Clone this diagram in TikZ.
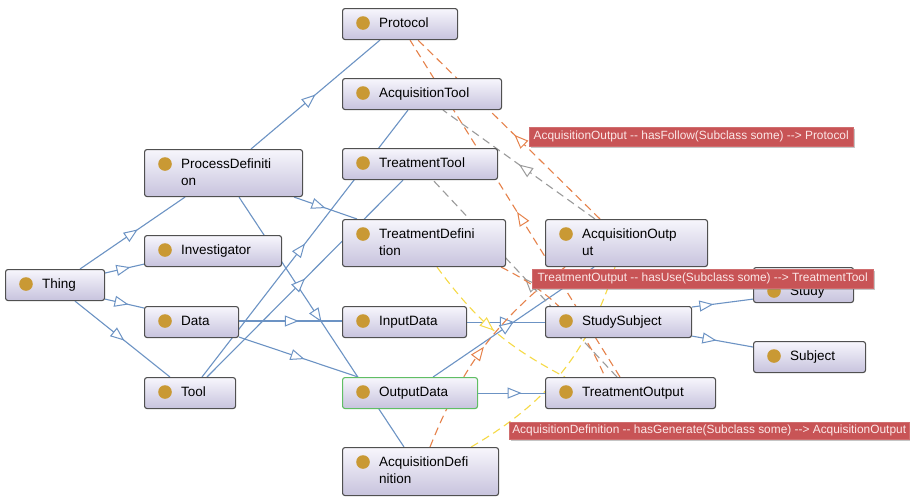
\documentclass[tikz,border=0pt]{standalone}
\usepackage{fontspec}
\setmainfont{Liberation Sans}
\usetikzlibrary{arrows.meta,decorations.markings,shadows,backgrounds}

\definecolor{nodetop}{RGB}{247,246,252}
\definecolor{nodebot}{RGB}{199,195,221}
\definecolor{nodeline}{RGB}{80,80,80}
\definecolor{selline}{RGB}{96,190,100}
\definecolor{dotc}{RGB}{201,153,52}
\definecolor{isa}{RGB}{108,147,196}
\definecolor{follow}{RGB}{230,130,75}
\definecolor{uses}{RGB}{155,155,155}
\definecolor{generate}{RGB}{246,218,70}
\definecolor{tipbg}{RGB}{200,84,86}
\definecolor{tiptext}{RGB}{252,232,232}

\tikzset{
  clsbox/.style={draw=nodeline, line width=1.1pt, rounded corners=2.5pt,
    top color=nodetop, bottom color=nodebot, inner sep=0pt, anchor=north west},
  clsname/.style={anchor=north west, inner sep=0pt, align=left,
    font=\fontsize{13.5}{17}\selectfont},
  midtip/.style={postaction={decorate}, decoration={markings,
    mark=at position #1 with {\arrow{Triangle[length=14pt,width=11pt,fill=white,line width=1pt]}}}},
  isaedge/.style={draw=isa, line width=1.1pt},
  relation/.style={line width=1.1pt, dash pattern=on 8pt off 5pt},
  tooltip/.style={fill=tipbg, draw=tipbg!85!white, text=tiptext, inner sep=0pt,
    anchor=north west, font=\fontsize{11.9}{14}\selectfont,
    drop shadow={shadow xshift=1.5pt, shadow yshift=-1.5pt, opacity=0.45}},
}

% class box: [border], name, x, y, width, height, text
\newcommand{\ontoclass}[7][nodeline]{%
  \node[clsbox, draw=#1, minimum width=#5pt, minimum height=#6pt] (#2) at (#3,#4) {};
  \fill[dotc] ([xshift=21pt,yshift=-15pt]#2.north west) circle (6.8pt);
  \node[clsname] (#2-name) at ([xshift=37pt,yshift=-10pt]#2.north west) {#7};
}

\begin{document}
\begin{tikzpicture}[x=1pt,y=-1pt]
  \useasboundingbox (0,0) rectangle (910,496);

  % classes
  \ontoclass{protocol}{342}{8}{115}{31}{Protocol}
  \ontoclass{acqtool}{342}{78}{159}{31}{AcquisitionTool}
  \ontoclass{procdef}{144}{149}{158}{47}{ProcessDefiniti\\on}
  \ontoclass{treattool}{342}{148}{155}{31}{TreatmentTool}
  \ontoclass{investigator}{144}{235}{137}{31}{Investigator}
  \ontoclass{treatdef}{342}{219}{163}{47}{TreatmentDefini\\tion}
  \ontoclass{acqout}{545}{219}{162}{47}{AcquisitionOutp\\ut}
  \ontoclass{thing}{5}{269}{99}{31}{Thing}
  \node[clsbox, minimum width=100pt, minimum height=35pt] (study) at (753,267) {};
  \fill[dotc] ([xshift=21pt,yshift=-24pt]study.north west) circle (6.8pt);
  \node[clsname] (study-name) at ([xshift=37pt,yshift=-19pt]study.north west) {Study};
  \ontoclass{data}{144}{306}{94}{31}{Data}
  \ontoclass{inputdata}{342}{306}{124}{31}{InputData}
  \ontoclass{studysubject}{545}{306}{146}{31}{StudySubject}
  \ontoclass{subject}{753}{341}{112}{31}{Subject}
  \ontoclass{tool}{144}{377}{91}{31}{Tool}
  \ontoclass[selline]{outputdata}{342}{377}{135}{31}{OutputData}
  \ontoclass{treatout}{545}{377}{170}{31}{TreatmentOutput}
  \ontoclass{acqdef}{342}{447}{156}{48}{AcquisitionDefi\\nition}

  \begin{pgfonlayer}{background}
    \fill[white] (0,0) rectangle (910,496);

    % subclass edges
    \draw[isaedge, midtip=0.55] ([xshift=75pt]thing.north west) -- ([xshift=41pt]procdef.south west);
    \draw[isaedge, midtip=0.65] ([yshift=-4pt]thing.north east) -- ([yshift=3pt]investigator.south west);
    \draw[isaedge, midtip=0.6] ([yshift=2pt]thing.south east) -- ([yshift=-2pt]data.north west);
    \draw[isaedge, midtip=0.52] ([xshift=70pt]thing.south west) -- ([xshift=26pt]tool.north west);
    \draw[isaedge, midtip=0.5] ([xshift=107pt]procdef.north west) -- ([xshift=38pt]protocol.south west);
    \draw[isaedge, midtip=0.5] ([xshift=-9pt]procdef.south east) -- ([xshift=15pt]treatdef.north west);
    \draw[isaedge, midtip=0.5] ([xshift=95pt]procdef.south west) -- ([xshift=62pt]acqdef.north west);
    \draw[isaedge, midtip=0.5] ([xshift=58pt]tool.north west) -- ([xshift=66pt]acqtool.south west);
    \draw[isaedge, midtip=0.5] ([xshift=63pt]tool.north west) -- ([xshift=61pt]treattool.south west);
    \draw[isaedge, midtip=0.58] ([yshift=-15pt]data.north east) -- ([yshift=-15pt]inputdata.north west);
    \draw[isaedge, midtip=0.55] ([yshift=1pt]data.south east) -- ([xshift=16pt]outputdata.north west);
    \draw[isaedge, midtip=0.6] (inputdata.east) -- (studysubject.west);
    \draw[isaedge, midtip=0.5] ([xshift=-45pt]outputdata.north east) -- ([xshift=49pt]acqout.south west);
    \draw[isaedge, midtip=0.65] (outputdata.east) -- (treatout.west);
    \draw[isaedge, midtip=0.35] ([yshift=-1pt]studysubject.north east) -- ([yshift=4pt]study.south west);
    \draw[isaedge, midtip=0.4] ([yshift=2pt]studysubject.south east) -- ([yshift=-6pt]subject.north west);

    % object properties
    \draw[relation, draw=uses, midtip=0.5] ([xshift=50pt]acqout.north west) -- ([xshift=101pt]acqtool.south west);
    \draw[relation, draw=uses, midtip=0.5] ([xshift=72pt]treatout.north west) -- ([xshift=91pt]treattool.south west);
    \draw[relation, draw=follow, midtip=0.47] ([xshift=55pt]acqout.north west) -- ([xshift=76pt]protocol.south west);
    \draw[relation, draw=follow, midtip=0.49] ([xshift=75pt]treatout.north west) -- ([xshift=68pt]protocol.south west);
    \draw[relation, draw=follow, midtip=0.5] ([xshift=88pt]acqdef.north west) to[bend left=15] ([xshift=20pt]acqout.south west);
    \draw[relation, draw=follow] ([xshift=-5pt]treatdef.south east) to[bend left=20] ([xshift=60pt]treatout.north west);
    \draw[relation, draw=generate, midtip=0.5] ([xshift=95pt]treatdef.south west) to[bend right=13] ([xshift=20pt]treatout.north west);
    \draw[relation, draw=generate] ([xshift=-28pt]acqdef.north east) to[bend right=21] ([xshift=70pt]acqout.south west);
  \end{pgfonlayer}

  % tooltips
  \node[tooltip, minimum width=324pt, minimum height=19pt] (tipfollow) at (529,127)
    {AcquisitionOutput -{}- hasFollow(Subclass some) -{}-> Protocol};
  \node[tooltip, minimum width=341pt, minimum height=19pt] (tipuse) at (532,269)
    {TreatmentOutput -{}- hasUse(Subclass some) -{}-> TreatmentTool};
  \node[tooltip, minimum width=400pt, minimum height=17pt] (tipgenerate) at (509,422)
    {AcquisitionDefinition -{}- hasGenerate(Subclass some) -{}-> AcquisitionOutput};
\end{tikzpicture}
\end{document}
